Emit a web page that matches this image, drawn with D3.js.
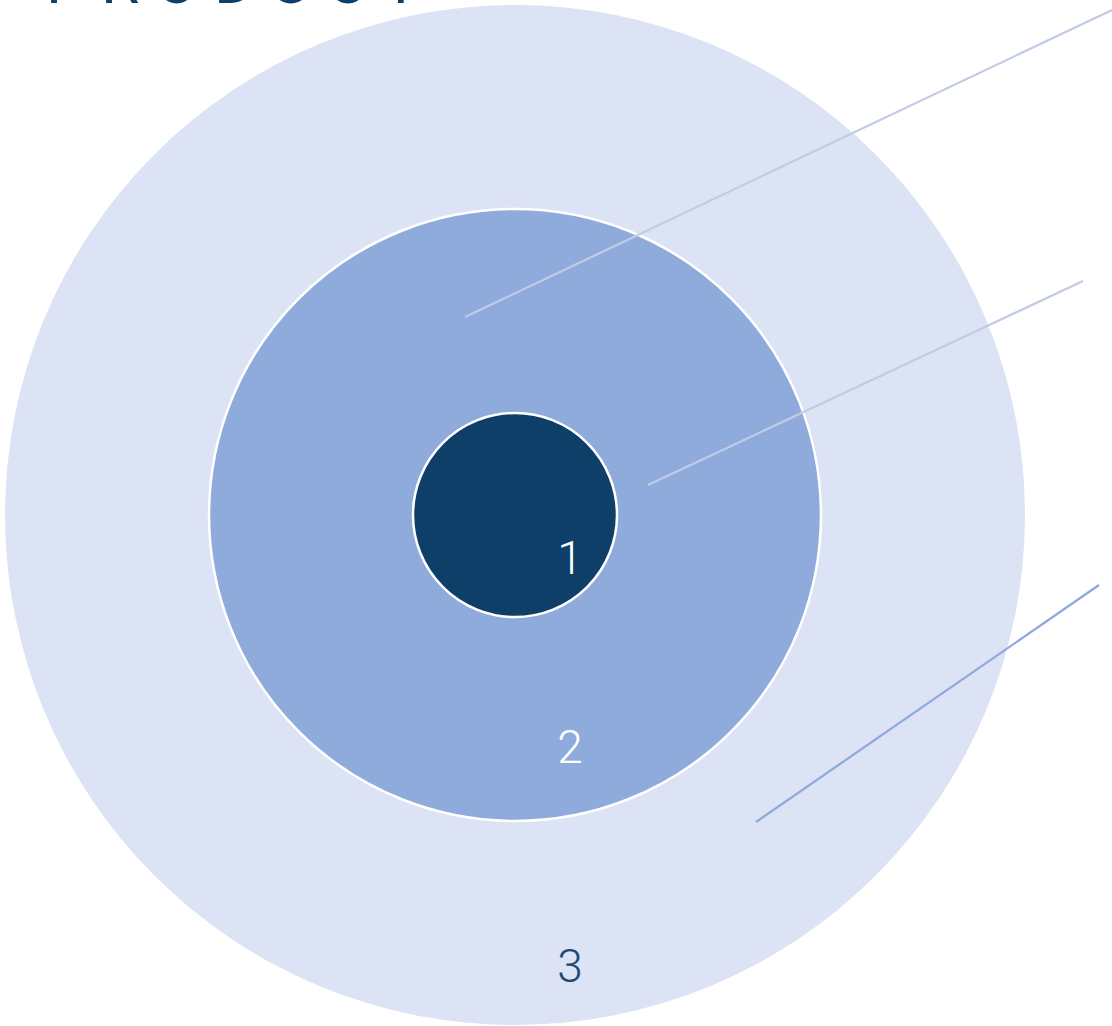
<!DOCTYPE html>
<html>
<head>
<meta charset="utf-8">
<script src="https://cdn.jsdelivr.net/npm/d3@7"></script>
<style>
  html, body { margin: 0; padding: 0; background: #fff; }
  svg { display: block; }
</style>
</head>
<body>
<svg id="chart" width="1112" height="1026"></svg>
<script>
// levels, from inside to outside
const levels = ["1", "2", "3"];
const radii = [1, 3, 5];
const fills = ["#0e3f69", "#8fabdc", "#dbe3f4"];
const labelColors = ["#ffffff", "#ffffff", "#1b4a74"];
const title = "PRODUCT";

const width = 1112;
const height = 1026;
const cx = 515, cy = 515;

const svg = d3.select("#chart");

const r = d3.scaleLinear().domain([0, 5]).range([0, 510]);

// title, mostly cut off at the top edge (as in the original)
svg.append("text")
  .attr("x", 46)
  .attr("y", 3)
  .attr("font-family", "Roboto, sans-serif")
  .attr("font-size", 62)
  .attr("letter-spacing", 16)
  .attr("fill", "#0d3f6b")
  .text(title);

// circles, biggest first
const idx = d3.range(levels.length).reverse();

svg.append("g")
  .selectAll("circle")
  .data(idx)
  .join("circle")
  .attr("cx", cx)
  .attr("cy", cy)
  .attr("r", i => r(radii[i]))
  .attr("fill", i => fills[i])
  .attr("stroke", i => (i === levels.length - 1 ? "none" : "#ffffff"))
  .attr("stroke-width", 2.5);

// leader lines
const leaders = [
  { x1: 465, y1: 317, x2: 1112, y2: 10, c: "#c2cbe6" },
  { x1: 648, y1: 485, x2: 1083, y2: 281, c: "#c2cbe6" },
  { x1: 756, y1: 822, x2: 1099, y2: 585, c: "#8fa8db" }
];

svg.append("g")
  .selectAll("line")
  .data(leaders)
  .join("line")
  .attr("x1", d => d.x1)
  .attr("y1", d => d.y1)
  .attr("x2", d => d.x2)
  .attr("y2", d => d.y2)
  .attr("stroke", d => d.c)
  .attr("stroke-width", 2.2);

// labels
const labelY = [0.58, 0.81, 0.915];

svg.append("g")
  .selectAll("text")
  .data(levels)
  .join("text")
  .attr("x", cx + 55)
  .attr("y", (d, i) => cy + r(radii[i]) * labelY[i])
  .attr("text-anchor", "middle")
  .attr("font-family", "Roboto, sans-serif")
  .attr("font-weight", 300)
  .attr("font-size", 46)
  .attr("fill", (d, i) => labelColors[i])
  .text(d => d);
</script>
</body>
</html>
